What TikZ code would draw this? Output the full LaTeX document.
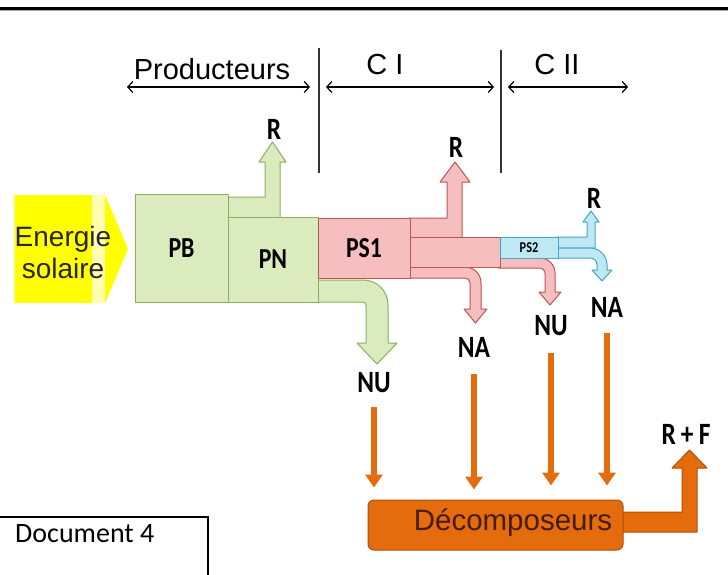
\documentclass[tikz,border=0pt]{standalone}
\usepackage{fontspec}
\setmainfont{Liberation Sans}
\newfontfamily\calib{Carlito}
\newfontfamily\calibc{Carlito}[FakeStretch=0.82]
\usetikzlibrary{arrows.meta}
\definecolor{gfill}{RGB}{218,236,190}
\definecolor{gline}{RGB}{140,175,95}
\definecolor{rfill}{RGB}{246,190,190}
\definecolor{rline}{RGB}{190,85,85}
\definecolor{bfill}{RGB}{190,232,244}
\definecolor{bline}{RGB}{70,165,195}
\definecolor{ofill}{RGB}{228,108,12}
\definecolor{oline}{RGB}{175,78,15}
\definecolor{ypale}{RGB}{255,255,175}
\definecolor{ybright}{RGB}{255,255,0}
\definecolor{otext}{RGB}{70,28,8}
\tikzset{
  gshape/.style={fill=gfill, draw=gline, line width=1pt, line join=round},
  rshape/.style={fill=rfill, draw=rline, line width=1pt, line join=round},
  bshape/.style={fill=bfill, draw=bline, line width=1pt, line join=round},
  oshape/.style={fill=ofill, draw=oline, line width=1pt, line join=round},
  lab/.style={inner sep=0pt, font=\calibc\bfseries\fontsize{31}{31}\selectfont},
  head/.style={inner sep=0pt, font=\fontsize{29}{29}\selectfont},
  darr/.style={line width=1.2pt, {Straight Barb[length=5pt,width=11pt]}-{Straight Barb[length=5pt,width=11pt]}},
  sep/.style={line width=1.3pt, black!80},
  oarr/.style={ofill, line width=6pt, -{Triangle[width=17pt,length=13pt]}},
  boxtext/.style={font=\calibc\bfseries\fontsize{29}{29}\selectfont}
}
\begin{document}
\begin{tikzpicture}[x=1pt,y=-1pt]
\useasboundingbox (0,0) rectangle (728,575);
\fill[white] (0,0) rectangle (728,575);
% top rule
\draw[line width=2.5pt] (0,8.5) -- (728,8.5);
\draw[black!35, line width=0.8pt] (0,10.6) -- (728,10.6);

% header
\node[head] (prod) at (212,69) {Producteurs};
\node[head] (ci) at (385,65) {C I};
\node[head] (cii) at (557,65) {C II};
\coordinate (a1) at (127,87); \coordinate (a2) at (310,87);
\coordinate (b1) at (326,87); \coordinate (b2) at (494,87);
\coordinate (c1) at (508,87); \coordinate (c2) at (628,87);
\draw[darr] (a1) -- (a2);
\draw[darr] (b1) -- (b2);
\draw[darr] (c1) -- (c2);
\coordinate (s1t) at (319,48); \coordinate (s1b) at (319,173);
\coordinate (s2t) at (501,50); \coordinate (s2b) at (501,173);
\draw[sep] (s1t) -- (s1b);
\draw[sep] (s2t) -- (s2b);

% solar energy arrow
\fill[ypale] (13,195) -- (105,195) -- (128,249) -- (105,303) -- (13,303) -- cycle;
\fill[ybright] (15,195) rectangle (92,303);
\fill[ybright] (105,195) -- (128,249) -- (105,303) -- cycle;
\node[align=center, inner sep=0pt, text=black!85, font=\fontsize{28}{32}\selectfont] (energie) at (63,252) {Energie\\solaire};

% green arrows
\draw[gshape] (226,197) -- (265,197) -- (265,162) -- (259,162) -- (272.5,142) -- (286,162) -- (280,162) -- (280,218) -- (226,218) -- cycle;
\draw[gshape] (316,280) -- (363,280) .. controls (377,280) and (388,291) .. (388,305) -- (388,343) -- (397,343) -- (377,364) -- (357,343) -- (366,343) -- (366,305) .. controls (366,303.3) and (364.7,302) .. (363,302) -- (316,302) -- cycle;

% red arrows
\draw[rshape] (408,218) -- (447,218) -- (447,182) -- (440,182) -- (455,162) -- (470,182) -- (462,182) -- (462,238) -- (408,238) -- cycle;
\draw[rshape] (408,267) -- (465,267) .. controls (474,267) and (481,274) .. (481,283) -- (481,309) -- (487,309) -- (475.5,323) -- (464,309) -- (470,309) -- (470,283) .. controls (470,280.2) and (467.8,278) .. (465,278) -- (408,278) -- cycle;
\draw[rshape] (498,258) -- (540,258) .. controls (548.3,258) and (555,264.7) .. (555,273) -- (555,292) -- (561,292) -- (550,305) -- (539,292) -- (545,292) -- (545,273) .. controls (545,270.2) and (542.8,268) .. (540,268) -- (498,268) -- cycle;
\draw[rshape] (410,237) rectangle (500,267);

% blue arrows
\draw[bshape] (556,237) -- (587,237) -- (587,222) -- (583,222) -- (591,211) -- (599,222) -- (595,222) -- (595,248) -- (556,248) -- cycle;
\draw[bshape] (556,248) -- (590,248) .. controls (599.4,248) and (607,255.6) .. (607,265) -- (607,270) -- (612,270) -- (602,281) -- (592,270) -- (597,270) -- (597,265) .. controls (597,261.1) and (593.9,258) .. (590,258) -- (556,258) -- cycle;

% boxes
\node[gshape, boxtext, minimum width=93pt, minimum height=108pt] (PB) at (181.5,248) {PB};
\node[gshape, boxtext, minimum width=90pt, minimum height=85pt] (PN) at (273,259.5) {PN};
\node[rshape, boxtext, minimum width=92pt, minimum height=60pt] (PS1) at (364,248) {PS1};
\node[bshape, inner sep=0pt, font=\calibc\bfseries\fontsize{15}{15}\selectfont, minimum width=58pt, minimum height=21pt] (PS2) at (529,247.5) {PS2};

% labels
\node[lab] (rG) at (274,129) {R};
\node[lab] (rR) at (456,147) {R};
\node[lab] (rB) at (594,198) {R};
\node[lab] (nuG) at (374,383) {NU};
\node[lab] (naR) at (474,347) {NA};
\node[lab] (nuR) at (551,326) {NU};
\node[lab] (naB) at (607,307) {NA};
\node[lab] (rf) at (686,434) {R\,+\,F};

% decomposers
\draw[oshape] (621,512) -- (682,512) -- (682,468) -- (672,468) -- (689.5,450) -- (707,468) -- (697,468) -- (697,532) -- (621,532) -- cycle;
\node[oshape, rounded corners=6pt, minimum width=255pt, minimum height=50pt] (decomp) at (495.5,525) {};
\node[inner sep=0pt, text=otext, font=\fontsize{29.5}{29.5}\selectfont] (decomplabel) at (513,523) {Décomposeurs};

\draw[oarr] ([yshift=-14pt]nuG.south) -- ([yshift=12pt]nuG.south |- decomp.north);
\draw[oarr] ([yshift=-17pt]naR.south) -- ([yshift=10pt]naR.south |- decomp.north);
\draw[oarr] ([yshift=-17pt]nuR.south) -- ([yshift=14pt]nuR.south |- decomp.north);
\draw[oarr] ([yshift=-16pt]naB.south) -- ([yshift=14pt]naB.south |- decomp.north);

% document box
\coordinate (d1) at (-5,517); \coordinate (d2) at (208,517); \coordinate (d3) at (208,580);
\draw[line width=1.3pt] (d1) -- (d2) -- (d3);
\node[inner sep=0pt, anchor=west, font=\calib\fontsize{28}{28}\selectfont] (doc) at (15,534) {Document 4};
\end{tikzpicture}
\end{document}
